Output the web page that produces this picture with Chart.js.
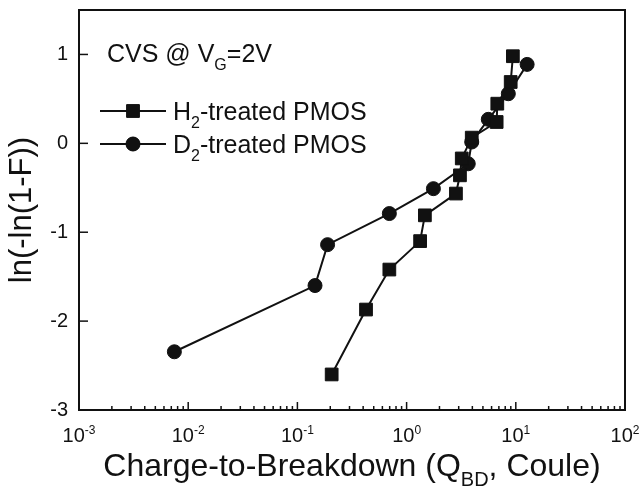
<!DOCTYPE html>
<html>
<head>
<meta charset="utf-8">
<script src="https://cdn.jsdelivr.net/npm/chart.js@4.4.1/dist/chart.umd.min.js"></script>
<style>
html, body { margin: 0; padding: 0; background: #fff; }
#wrap { width: 640px; height: 494px; }
</style>
</head>
<body>
<div id="wrap"><canvas id="qbdChart"></canvas></div>
<script>
// values
var h2Charge  = [0.206, 0.425, 0.695, 1.33, 1.47, 2.83, 3.08, 3.20, 3.95, 6.68, 6.77, 8.98, 9.40];
var h2Weibull = [-2.60, -1.87, -1.42, -1.10, -0.81, -0.565, -0.36, -0.17, 0.064, 0.24, 0.446, 0.69, 0.98];
var d2Charge  = [0.00747, 0.145, 0.189, 0.695, 1.76, 3.67, 3.95, 5.60, 8.54, 12.7];
var d2Weibull = [-2.345, -1.60, -1.14, -0.79, -0.51, -0.23, 0.015, 0.27, 0.558, 0.888];

var xTickValues = [0.001, 0.01, 0.1, 1, 10, 100];
var xTickExponents = ['-3', '-2', '-1', '0', '1', '2'];
var yTickValues = [-3, -2, -1, 0, 1];

var FONT = '"Liberation Sans", Arial, Helvetica, sans-serif';

function toPoints(xs, ys) {
    return xs.map(function (x, i) { return { x: x, y: ys[i] }; });
}

// draws text made of normal / sub / sup pieces
function richText(ctx, parts, x, y, size, align) {
    var small = Math.round(size * 0.62);
    var total = 0;
    parts.forEach(function (p) {
        ctx.font = (p.sub || p.sup ? small : size) + 'px ' + FONT;
        p.w = ctx.measureText(p.t).width;
        total += p.w;
    });
    var cx = align === 'center' ? x - total / 2 : x;
    ctx.textAlign = 'left';
    ctx.textBaseline = 'alphabetic';
    parts.forEach(function (p) {
        var dy = 0;
        if (p.sub) dy = size * 0.3;
        if (p.sup) dy = -size * 0.42;
        ctx.font = (p.sub || p.sup ? small : size) + 'px ' + FONT;
        ctx.fillText(p.t, cx, y + dy);
        cx += p.w;
    });
}

var framePlugin = {
    id: 'frame',
    beforeDatasetsDraw: function (chart) {
        var ctx = chart.ctx, a = chart.chartArea;
        var xs = chart.scales.x, ys = chart.scales.y;
        ctx.save();
        ctx.strokeStyle = '#111';
        ctx.fillStyle = '#111';
        ctx.lineWidth = 2;
        ctx.strokeRect(a.left, a.top, a.right - a.left, a.bottom - a.top);

        // x ticks, pointing inwards
        ctx.lineWidth = 1.5;
        for (var d = 0; d < xTickValues.length - 1; d++) {
            for (var m = 1; m <= 9; m++) {
                var v = xTickValues[d] * m;
                var px = xs.getPixelForValue(v);
                var len = m === 1 ? 8 : 4;
                ctx.beginPath();
                ctx.moveTo(px, a.bottom);
                ctx.lineTo(px, a.bottom - len);
                ctx.stroke();
            }
        }
        // y ticks
        yTickValues.forEach(function (v) {
            var py = ys.getPixelForValue(v);
            ctx.beginPath();
            ctx.moveTo(a.left, py);
            ctx.lineTo(a.left + 9, py);
            ctx.stroke();
        });

        // tick labels
        xTickValues.forEach(function (v, i) {
            var px = xs.getPixelForValue(v);
            richText(ctx, [{ t: '10' }, { t: xTickExponents[i], sup: true }], px, a.bottom + 32, 20, 'center');
        });
        ctx.font = '20px ' + FONT;
        ctx.textAlign = 'right';
        ctx.textBaseline = 'middle';
        yTickValues.forEach(function (v) {
            ctx.fillText(String(v), a.left - 11, ys.getPixelForValue(v));
        });

        // axis titles
        richText(ctx, [{ t: 'Charge-to-Breakdown (Q' }, { t: 'BD', sub: true }, { t: ', Coule)' }],
            (a.left + a.right) / 2, 476, 32, 'center');
        ctx.save();
        ctx.translate(31, (a.top + a.bottom) / 2);
        ctx.rotate(-Math.PI / 2);
        ctx.font = '31px ' + FONT;
        ctx.textAlign = 'center';
        ctx.textBaseline = 'alphabetic';
        ctx.fillText('ln(-ln(1-F))', 0, 0);
        ctx.restore();
        ctx.restore();
    },
    afterDraw: function (chart) {
        var ctx = chart.ctx;
        ctx.save();
        ctx.fillStyle = '#111';
        ctx.strokeStyle = '#111';
        richText(ctx, [{ t: 'CVS @ V' }, { t: 'G', sub: true }, { t: '=2V' }], 107, 62, 25, 'left');

        var rows = [
            { y: 111, style: 'rect', r: 9, parts: [{ t: 'H' }, { t: '2', sub: true }, { t: '-treated PMOS' }] },
            { y: 144, style: 'circle', r: 7, parts: [{ t: 'D' }, { t: '2', sub: true }, { t: '-treated PMOS' }] }
        ];
        rows.forEach(function (row) {
            ctx.lineWidth = 2;
            ctx.beginPath();
            ctx.moveTo(100, row.y);
            ctx.lineTo(166, row.y);
            ctx.stroke();
            ctx.lineWidth = 1;
            Chart.helpers.drawPoint(ctx, { pointStyle: row.style, radius: row.r, borderWidth: 1 }, 133, row.y);
            ctx.fill();
            richText(ctx, row.parts, 173, row.y + 9, 25, 'left');
        });
        ctx.restore();
    }
};

var ctx = document.getElementById('qbdChart').getContext('2d');
var qbdChart = new Chart(ctx, {
    type: 'scatter',
    data: {
        datasets: [{
            label: 'H2-treated PMOS',
            data: toPoints(h2Charge, h2Weibull),
            showLine: true,
            borderColor: '#111',
            backgroundColor: '#111',
            borderWidth: 2,
            pointStyle: 'rect',
            pointRadius: 9,
            pointBorderWidth: 1
        }, {
            label: 'D2-treated PMOS',
            data: toPoints(d2Charge, d2Weibull),
            showLine: true,
            borderColor: '#111',
            backgroundColor: '#111',
            borderWidth: 2,
            pointStyle: 'circle',
            pointRadius: 7,
            pointBorderWidth: 1
        }]
    },
    options: {
        responsive: true,
        maintainAspectRatio: false,
        animation: false,
        events: [],
        layout: { padding: { left: 79, right: 15, top: 9.5, bottom: 84 } },
        scales: {
            x: { type: 'logarithmic', min: 0.001, max: 100, display: false },
            y: { type: 'linear', min: -3, max: 1.5, display: false }
        },
        plugins: {
            legend: { display: false },
            tooltip: { enabled: false }
        }
    },
    plugins: [framePlugin]
});
</script>
</body>
</html>
